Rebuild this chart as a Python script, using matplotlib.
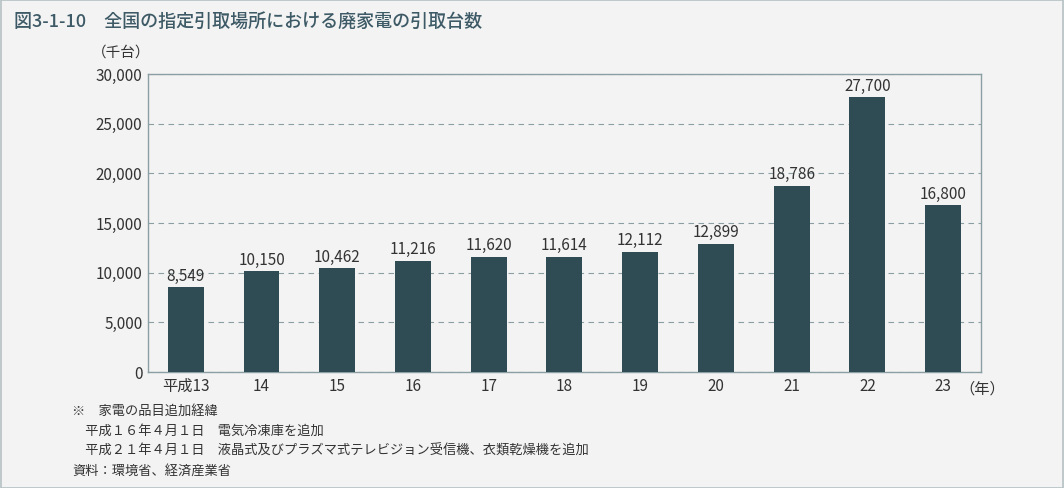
import numpy as np
import matplotlib.pyplot as plt
from matplotlib.patches import Rectangle

plt.rcParams['font.family'] = ['Noto Sans CJK JP', 'DejaVu Sans']

# data
years = ['平成13', '14', '15', '16', '17', '18', '19', '20', '21', '22', '23']
units = [8549, 10150, 10462, 11216, 11620, 11614, 12112, 12899, 18786, 27700, 16800]

bg = '#f3f3f3'
bar_color = '#2f4c55'
frame_color = '#8a9ea3'
text_color = '#333333'

fig = plt.figure(figsize=(10.64, 4.88), dpi=100, facecolor=bg)
ax = fig.add_axes([0.139, 0.2377, 0.783, 0.6103])
ax.set_facecolor(bg)

x = np.arange(len(years))
ax.bar(x, units, width=0.475, color=bar_color, zorder=3)
for xi, v in zip(x, units):
    ax.text(xi, v + 250, f'{v:,}', ha='center', va='bottom', fontsize=11, color=text_color)

ax.set_xlim(-0.5, len(years) - 0.5)
ax.set_ylim(0, 30000)
ax.set_yticks(range(0, 30001, 5000))
ax.set_yticklabels([f'{t:,}' for t in range(0, 30001, 5000)], fontsize=11, color=text_color)
ax.set_xticks(x)
ax.set_xticklabels(years, fontsize=11, color=text_color)
ax.tick_params(length=0, pad=4)
ax.yaxis.grid(True, linestyle=(0, (5, 4)), color=frame_color, linewidth=0.8, zorder=0)
for s in ax.spines.values():
    s.set_color(frame_color)
    s.set_linewidth(1)

fig.text(0.902, 0.2377 - 0.034, '（年）', ha='left', va='center', fontsize=11, color=text_color)
fig.text(0.114, 0.893, '（千台）', ha='center', va='center', fontsize=10.5, color=text_color)

fig.text(0.013, 0.955, '図3-1-10　全国の指定引取場所における廃家電の引取台数',
         ha='left', va='center', fontsize=13, color='#3d5a66', fontweight='medium')

notes = ['※　家電の品目追加経緯',
         '　平成１６年４月１日　電気冷凍庫を追加',
         '　平成２１年４月１日　液晶式及びプラズマ式テレビジョン受信機、衣類乾燥機を追加',
         '資料：環境省、経済産業省']
for i, t in enumerate(notes):
    fig.text(0.068, 0.158 - i * 0.0415, t, ha='left', va='center', fontsize=9.5, color=text_color)

fig.patches.append(Rectangle((0.001, 0.001), 0.998, 0.998, transform=fig.transFigure,
                             fill=False, edgecolor='#b5c0c3', linewidth=1.2))

fig.savefig('out.png', dpi=100, facecolor=bg)
